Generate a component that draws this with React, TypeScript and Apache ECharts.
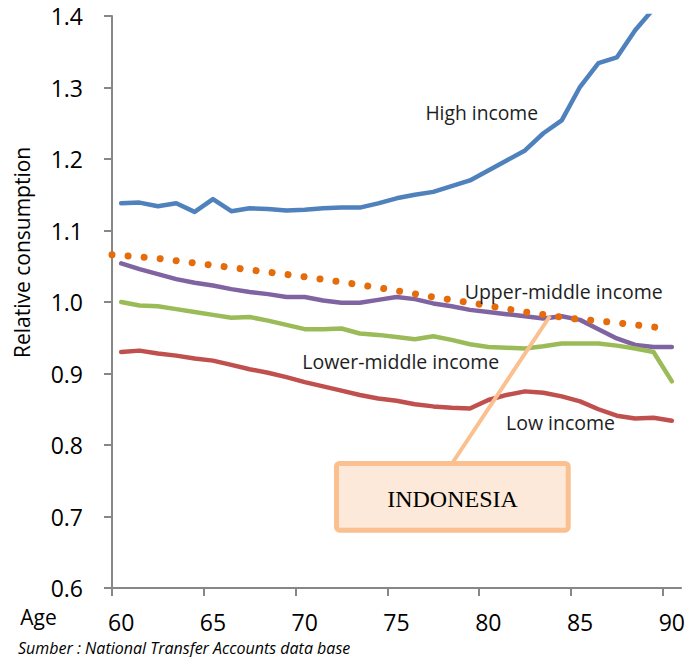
import React, { useEffect, useRef } from "react";
import * as echarts from "echarts";

// Age categories (x axis)
const AGES = [
  "60", "61", "62", "63", "64", "65", "66", "67", "68", "69", "70",
  "71", "72", "73", "74", "75", "76", "77", "78", "79", "80",
  "81", "82", "83", "84", "85", "86", "87", "88", "89", "90",
];
const AGE_TICKS = [60, 65, 70, 75, 80, 85, 90];

// Relative consumption by income group (ages 60..90)
const HIGH_INCOME = [
  1.138, 1.139, 1.134, 1.138, 1.126, 1.144, 1.127, 1.131, 1.13, 1.128, 1.129,
  1.131, 1.132, 1.132, 1.138, 1.145, 1.15, 1.154, 1.162, 1.17, 1.184,
  1.198, 1.212, 1.236, 1.254, 1.301, 1.334, 1.342, 1.38, 1.41, 1.44,
];
const UPPER_MIDDLE = [
  1.054, 1.046, 1.039, 1.032, 1.027, 1.023, 1.018, 1.014, 1.011, 1.007, 1.007,
  1.002, 0.999, 0.999, 1.003, 1.007, 1.004, 0.998, 0.994, 0.989, 0.986,
  0.983, 0.98, 0.977, 0.98, 0.975, 0.962, 0.949, 0.94, 0.937, 0.937,
];
const LOWER_MIDDLE = [
  1.0, 0.995, 0.994, 0.99, 0.986, 0.982, 0.978, 0.979, 0.974, 0.968, 0.962,
  0.962, 0.963, 0.956, 0.954, 0.951, 0.948, 0.952, 0.947, 0.941, 0.937,
  0.936, 0.935, 0.938, 0.942, 0.942, 0.942, 0.939, 0.935, 0.93, 0.889,
];
const LOW_INCOME = [
  0.93, 0.932, 0.928, 0.925, 0.921, 0.918, 0.912, 0.906, 0.901, 0.895, 0.888,
  0.882, 0.876, 0.87, 0.865, 0.862, 0.857, 0.854, 0.852, 0.851, 0.863,
  0.87, 0.875, 0.873, 0.868, 0.861, 0.85, 0.841, 0.837, 0.838, 0.834,
];

// Indonesia (dotted line)
const INDONESIA_AGES = [60, 62.5, 65, 67.5, 70, 72.5, 75, 77.5, 80, 82.5, 85, 87.5, 89.85];
const INDONESIA = [1.066, 1.061, 1.053, 1.045, 1.037, 1.028, 1.018, 1.007, 0.997, 0.986, 0.977, 0.971, 0.964];

const Y_MIN = 0.6;
const Y_MAX = 1.4;
const Y_STEP = 0.1;

const SANS = "'Open Sans', 'Noto Sans', sans-serif";
const AXIS_GREY = "#878787";

export default function App() {
  const ref = useRef<HTMLDivElement>(null);

  useEffect(() => {
    const chart = echarts.init(ref.current as HTMLDivElement, null, { renderer: "svg" });

    const lineSeries = (name: string, data: number[], color: string) => ({
      name,
      type: "line",
      xAxisIndex: 0,
      yAxisIndex: 0,
      data,
      symbol: "none",
      silent: true,
      clip: true,
      lineStyle: { color, width: 4.5, cap: "round", join: "round" },
      emphasis: { disabled: true },
    });

    chart.setOption({
      animation: false,
      backgroundColor: "#ffffff",
      textStyle: { fontFamily: SANS },
      grid: { left: 112, right: 6, top: 16, bottom: 69, containLabel: false },
      xAxis: [
        {
          type: "category",
          data: AGES,
          boundaryGap: true,
          axisLine: { show: true, lineStyle: { color: AXIS_GREY, width: 2 } },
          axisTick: { show: false },
          axisLabel: { interval: 4, margin: 22, fontSize: 23, color: "#000", fontFamily: SANS },
          splitLine: { show: false },
        },
        {
          type: "value",
          position: "bottom",
          min: 60,
          max: 91,
          axisLine: { show: false },
          axisLabel: { show: false },
          splitLine: { show: false },
          axisTick: {
            show: true,
            length: 8,
            customValues: AGE_TICKS,
            lineStyle: { color: AXIS_GREY, width: 2 },
          },
        },
      ],
      yAxis: {
        type: "value",
        min: Y_MIN,
        max: Y_MAX,
        interval: Y_STEP,
        axisLine: { show: true, lineStyle: { color: AXIS_GREY, width: 2 } },
        axisTick: { show: true, length: 8, lineStyle: { color: AXIS_GREY, width: 2 } },
        axisLabel: {
          margin: 29,
          fontSize: 23,
          color: "#000",
          fontFamily: SANS,
          formatter: (v: number) => v.toFixed(1),
        },
        splitLine: { show: false },
      },
      series: [
        lineSeries("High income", HIGH_INCOME, "#4F81BD"),
        lineSeries("Upper-middle income", UPPER_MIDDLE, "#8064A2"),
        lineSeries("Lower-middle income", LOWER_MIDDLE, "#9BBB59"),
        lineSeries("Low income", LOW_INCOME, "#C0504D"),
        {
          name: "Indonesia",
          type: "line",
          xAxisIndex: 1,
          yAxisIndex: 0,
          data: INDONESIA_AGES.map((a, i) => [a, INDONESIA[i]]),
          symbol: "none",
          silent: true,
          lineStyle: { color: "#E46C0A", width: 7, type: [0.01, 16.1], cap: "round" },
          emphasis: { disabled: true },
          z: 5,
        },
      ],
      graphic: [
        {
          type: "text",
          x: 481.7,
          y: 112.5,
          z: 100,
          style: { text: "High income", font: `19.3px ${SANS}`, fill: "#1e1e1e", align: "center", verticalAlign: "middle" },
        },
        {
          type: "text",
          x: 563.7,
          y: 291,
          z: 100,
          style: { text: "Upper-middle income", font: `19.5px ${SANS}`, fill: "#1e1e1e", align: "center", verticalAlign: "middle" },
        },
        {
          type: "text",
          x: 400.8,
          y: 361,
          z: 100,
          style: { text: "Lower-middle income", font: `19.5px ${SANS}`, fill: "#1e1e1e", align: "center", verticalAlign: "middle" },
        },
        {
          type: "text",
          x: 560.5,
          y: 422.7,
          z: 100,
          style: { text: "Low income", font: `19.5px ${SANS}`, fill: "#1e1e1e", align: "center", verticalAlign: "middle" },
        },
        {
          type: "line",
          z: 99,
          shape: { x1: 453, y1: 462, x2: 550, y2: 316 },
          style: { stroke: "#FAC08F", lineWidth: 4 },
        },
        {
          type: "rect",
          z: 100,
          shape: { x: 336.5, y: 463.5, width: 231.7, height: 66.7, r: 3 },
          style: { fill: "#FDE9D9", stroke: "#FAC08F", lineWidth: 5 },
        },
        {
          type: "text",
          x: 452.5,
          y: 499.3,
          z: 101,
          style: { text: "INDONESIA", font: `24px 'Liberation Serif', 'DejaVu Serif', serif`, fill: "#000", align: "center", verticalAlign: "middle" },
        },
        {
          type: "text",
          x: 21.5,
          y: 252.4,
          rotation: Math.PI / 2,
          z: 100,
          style: { text: "Relative consumption", font: `21px ${SANS}`, fill: "#000", align: "center", verticalAlign: "middle" },
        },
        {
          type: "text",
          x: 38.5,
          y: 617.3,
          z: 100,
          style: { text: "Age", font: `21px ${SANS}`, fill: "#000", align: "center", verticalAlign: "middle" },
        },
        {
          type: "text",
          x: 18,
          y: 647.5,
          z: 100,
          style: { text: "Sumber : National Transfer Accounts data base", font: `italic 16px ${SANS}`, fill: "#000", align: "left", verticalAlign: "middle" },
        },
      ],
    });

    return () => chart.dispose();
  }, []);

  return (
    <div
      ref={ref}
      style={{ position: "absolute", left: 0, top: 0, width: 688, height: 657, background: "#fff" }}
    />
  );
}
